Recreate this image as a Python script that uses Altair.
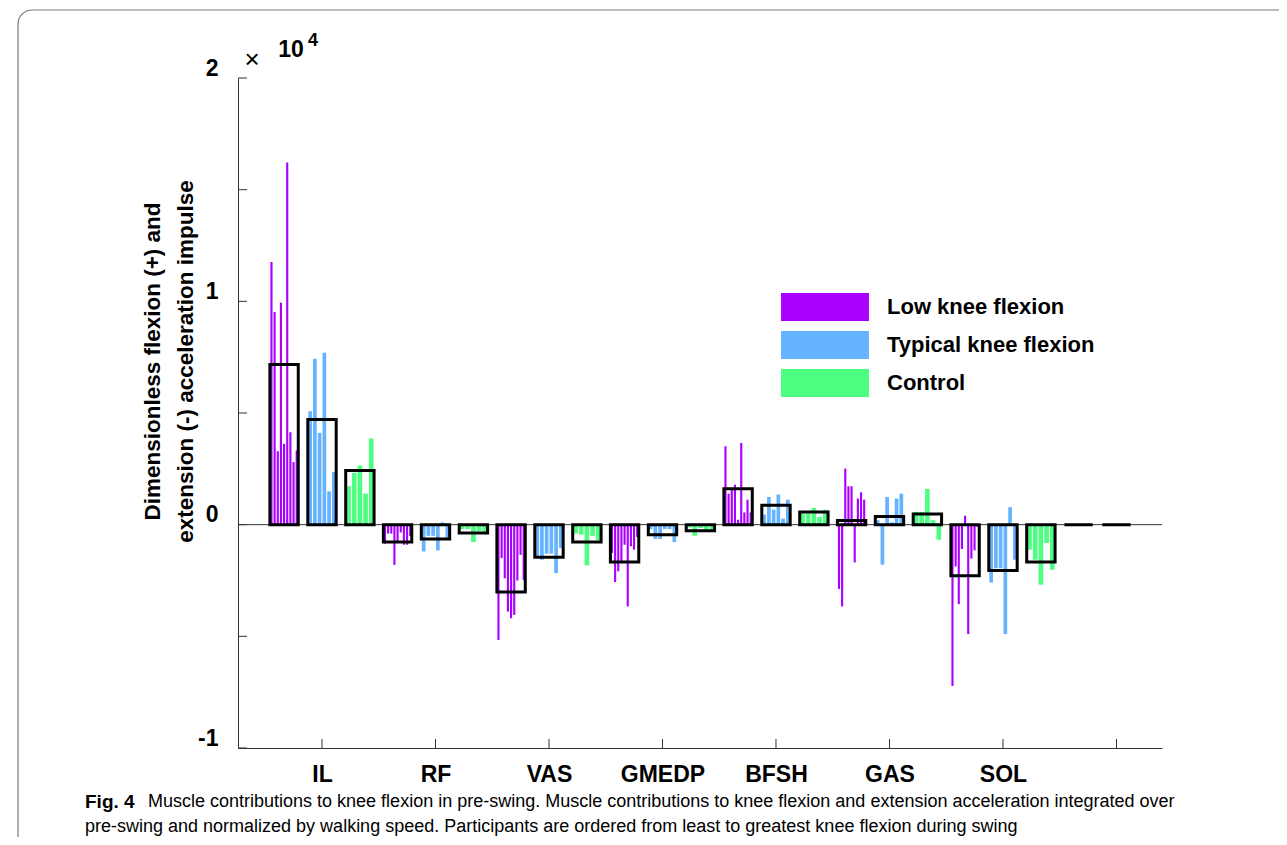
import json
import altair as alt
import pandas as pd

# ---------------- data (values in units of 10^4) ----------------
muscle_names = ["IL", "RF", "VAS", "GMEDP", "BFSH", "GAS", "SOL"]
cohort_names = ["Low knee flexion", "Typical knee flexion", "Control"]
cohort_colors = ["#AA00FF", "#66B3FF", "#4DFF80"]

low_bars = [
    [1.176, 0.952, 0.329, 0.994, 0.362, 1.622, 0.414, 0.280, 0.332],
    [-0.085, -0.04, -0.04, -0.18, -0.08, -0.035, -0.09, -0.09, -0.05],
    [-0.516, -0.15, -0.24, -0.389, -0.419, -0.404, -0.25, -0.135, -0.247],
    [-0.127, -0.257, -0.209, -0.167, -0.09, -0.366, -0.097, -0.112, -0.055],
    [0.351, 0.139, 0.164, 0.179, 0.022, 0.366, 0.055, 0.112, 0.055],
    [-0.288, -0.366, 0.251, 0.172, 0.172, -0.169, 0.117, 0.145, 0.112],
    [-0.722, -0.187, -0.356, -0.109, 0.04, -0.49, -0.152, -0.115, -0.01],
]
typical_bars = [
    [0.508, 0.743, 0.411, 0.770, 0.149, 0.236],
    [-0.12, -0.05, -0.05, -0.115, 0.01, -0.06],
    [-0.15, -0.157, -0.13, -0.13, -0.217, -0.105],
    [-0.02, -0.064, -0.064, -0.02, -0.02, -0.078],
    [0.045, 0.124, 0.067, 0.135, 0.027, 0.112],
    [0.02, -0.179, 0.124, 0.01, 0.117, 0.139],
    [-0.259, -0.195, -0.195, -0.49, 0.078, -0.157],
]
control_bars = [
    [0.172, 0.232, 0.265, 0.139, 0.386],
    [-0.02, -0.02, -0.078, -0.03, -0.035],
    [-0.04, -0.045, -0.182, -0.05, -0.07],
    [-0.012, -0.05, -0.015, -0.03, -0.028],
    [0.05, 0.05, 0.075, 0.034, 0.067],
    [0.057, 0.057, 0.16, 0.02, -0.067],
    [-0.112, -0.157, -0.269, -0.082, -0.202],
]

low_box = [0.717, -0.078, -0.302, -0.167, 0.161, 0.019, -0.229, 0.0]
typical_box = [0.471, -0.064, -0.146, -0.045, 0.087, 0.037, -0.205, 0.0]
control_box = [0.242, -0.037, -0.078, -0.027, 0.057, 0.048, -0.167]

x_tick_values = [1, 2, 3, 4, 5, 6, 7, 8]
x_label_values = [1, 2, 3, 4, 5, 6, 7]
y_tick_values = [-1, -0.5, 0, 0.5, 1, 1.5, 2]
y_label_values = [-1, 0, 1, 2]

y_title = ["Dimensionless flexion (+) and", "extension (-) acceleration impulse"]
caption_bold = "Fig. 4"
caption_line1 = ("Muscle contributions to knee flexion in pre-swing. Muscle contributions to knee "
                 "flexion and extension acceleration integrated over")
caption_line2 = ("pre-swing and normalized by walking speed. Participants are ordered from least "
                 "to greatest knee flexion during swing")

# ---------------- layout constants ----------------
X_MIN, X_MAX = 0.26, 8.401
Y_MIN, Y_MAX = -1, 2
OFFSETS = [-0.334, 0.0, 0.334]
HALF = 0.125
GAP = 0.009
FONT = "Liberation Sans"

bar_rows = []
for k, (name, groups) in enumerate(zip(cohort_names, [low_bars, typical_bars, control_bars])):
    for m, vals in enumerate(groups):
        n = len(vals)
        left = m + 1 + OFFSETS[k] - HALF
        step = 2 * HALF / n
        for i, v in enumerate(vals):
            bar_rows.append({"cohort": name, "x": left + i * step + GAP / 2,
                             "x2": left + (i + 1) * step - GAP / 2, "v": v})
bars_df = pd.DataFrame(bar_rows)

box_rows = []
for k, (name, means) in enumerate(zip(cohort_names, [low_box, typical_box, control_box])):
    for m, v in enumerate(means):
        c = m + 1 + OFFSETS[k]
        box_rows.append({"cohort": name, "x": c - HALF, "x2": c + HALF, "v": v})
box_df = pd.DataFrame(box_rows)

xscale = alt.Scale(domain=[X_MIN, X_MAX], nice=False, zero=False)
yscale = alt.Scale(domain=[Y_MIN, Y_MAX], nice=False, zero=False)

label_expr = "%s[datum.value - 1]" % json.dumps(muscle_names)
y_label_expr = "datum.value < 0 ? '-' + abs(datum.value) : '' + datum.value"

one = pd.DataFrame({"k": [0]})

frame = alt.Chart(one).mark_rect(filled=False, stroke="#7a7a7a", strokeWidth=1.2,
                                  cornerRadius=14).encode(
    x=alt.value(-220), x2=alt.value(1100), y=alt.value(-68), y2=alt.value(900))

zero_line = alt.Chart(one).mark_rule(color="#333333", strokeWidth=1).encode(
    x=alt.datum(X_MIN, scale=xscale), x2=alt.datum(X_MAX), y=alt.datum(0, scale=yscale))

bars = alt.Chart(bars_df).mark_rect().encode(
    x=alt.X("x:Q", scale=xscale,
            axis=alt.Axis(values=x_label_values, labelExpr=label_expr, ticks=False, grid=False,
                          title=None, labelFont=FONT, labelFontWeight="bold", labelFontSize=23,
                          labelColor="black", labelPadding=15, domainColor="#333333",
                          domainWidth=1, labelFlush=False, labelOverlap=False)),
    x2="x2:Q",
    y=alt.Y("v:Q", scale=yscale,
            axis=alt.Axis(values=y_label_values, labelExpr=y_label_expr, ticks=False,
                          grid=False, title=y_title,
                          labelFont=FONT, labelFontWeight="bold", labelFontSize=23,
                          labelColor="black", labelPadding=20, labelBaseline="middle",
                          labelOffset=-10, labelFlush=False, labelOverlap=False,
                          domainColor="#333333", domainWidth=1,
                          titleFont=FONT, titleFontWeight="bold", titleFontSize=22.5,
                          titleColor="black", titleAngle=270, titleX=-97, titleY=283,
                          titleAlign="center", titleBaseline="top", titleLineHeight=33)),
    y2=alt.datum(0),
    color=alt.Color("cohort:N", scale=alt.Scale(domain=cohort_names, range=cohort_colors),
                    legend=alt.Legend(title=None, orient="none", legendX=573, legendY=215,
                                      symbolType="M-3.14,-1L3.14,-1L3.14,1L-3.14,1Z",
                                      symbolSize=784, symbolStrokeWidth=0, symbolOpacity=1,
                                      labelFont=FONT, labelFontWeight="bold", labelFontSize=22,
                                      labelColor="black", labelOffset=48, rowPadding=10,
                                      padding=0, labelLimit=400)),
)

boxes = alt.Chart(box_df).mark_rect(filled=False, stroke="black", strokeWidth=3).encode(
    x="x:Q", x2="x2:Q", y="v:Q", y2=alt.datum(0))

xt = pd.DataFrame({"t": x_tick_values})
x_ticks = alt.Chart(xt).mark_rule(color="#333333", strokeWidth=1).encode(
    x="t:Q", y=alt.datum(Y_MIN), y2=alt.datum(Y_MIN + 9 / 223.3))

yt = pd.DataFrame({"t": y_tick_values})
y_ticks = alt.Chart(yt).mark_rule(color="#333333", strokeWidth=1).encode(
    y="t:Q", x=alt.datum(X_MIN), x2=alt.datum(X_MIN + 9 / 113.5))


def label(text, x, y, size, weight="normal", align="left", baseline="alphabetic", font=FONT):
    return alt.Chart(pd.DataFrame({"s": [text]})).mark_text(
        font=font, fontSize=size, fontWeight=weight, align=align, baseline=baseline,
        color="black").encode(text="s:N", x=alt.value(x), y=alt.value(y))


mult = label("\u00d7", 14, -18, 26, baseline="middle", align="center")
ten = label("10", 53, -21, 23, weight="bold", align="center")
power = label("4", 75, -32, 18, weight="bold", align="center")

cap0 = label(caption_bold, -153, 724, 19, weight="bold", baseline="middle")
cap1 = label(caption_line1, -90, 724, 18, baseline="middle")
cap2 = label(caption_line2, -153, 749, 18, baseline="middle")

chart = alt.layer(frame, zero_line, bars, boxes, x_ticks, y_ticks, mult, ten, power,
                  cap0, cap1, cap2).properties(
    width=924, height=670,
    autosize=alt.AutoSizeParams(type="none"),
    padding={"left": 230, "top": 70, "right": 117, "bottom": 89},
).configure_view(stroke=None)

chart.save("out.html", embed_options={"renderer": "svg", "actions": False})
